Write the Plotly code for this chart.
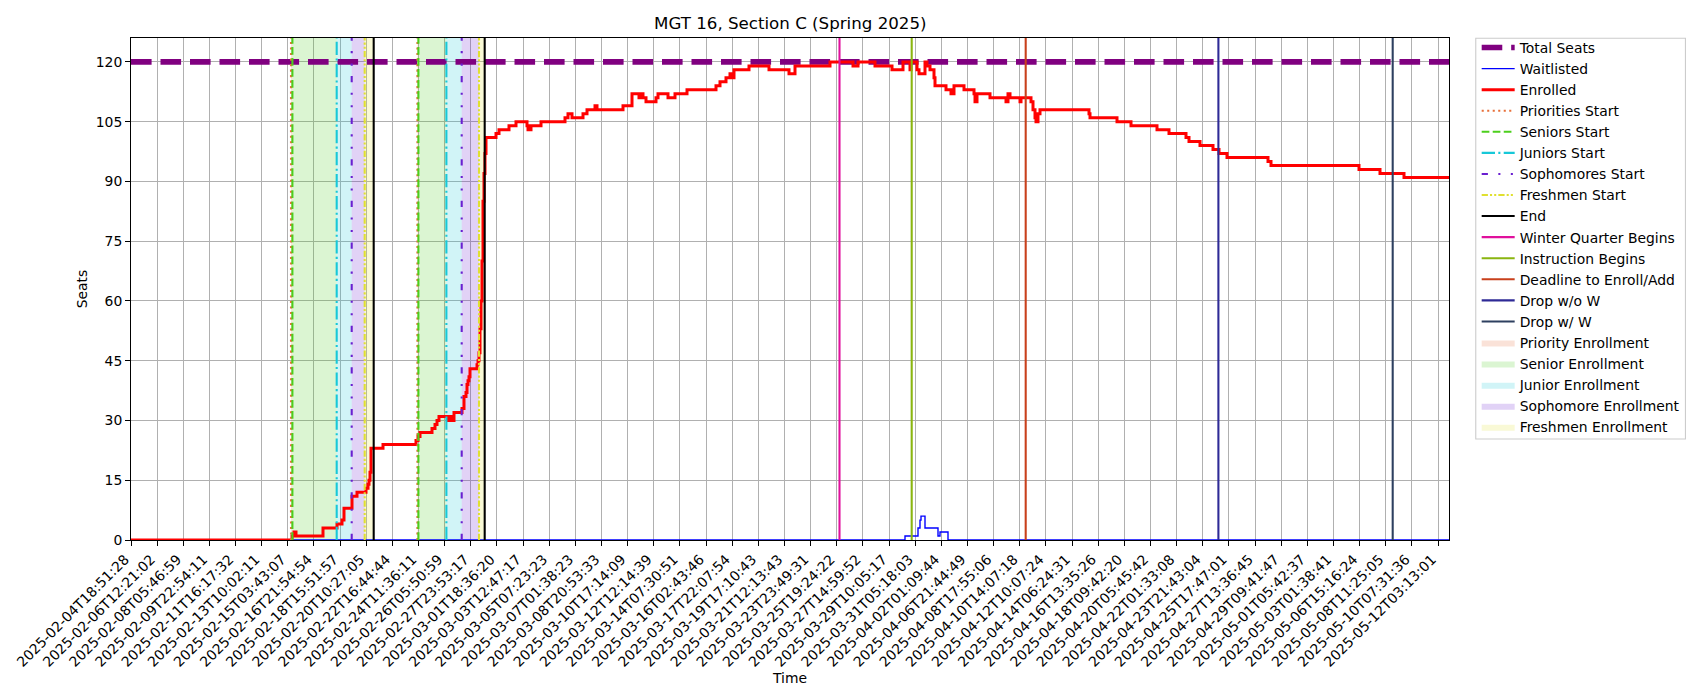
import plotly.graph_objects as go

TITLE = "MGT 16, Section C (Spring 2025)"
FONT = "DejaVu Sans"

tick_labels = [
    "2025-02-04T18:51:28", "2025-02-06T12:21:02", "2025-02-08T05:46:59", "2025-02-09T22:54:11",
    "2025-02-11T16:17:32", "2025-02-13T10:02:11", "2025-02-15T03:43:07", "2025-02-16T21:54:54",
    "2025-02-18T15:51:57", "2025-02-20T10:27:05", "2025-02-22T16:44:44", "2025-02-24T11:36:11",
    "2025-02-26T05:50:59", "2025-02-27T23:53:17", "2025-03-01T18:36:20", "2025-03-03T12:47:17",
    "2025-03-05T07:23:23", "2025-03-07T01:38:23", "2025-03-08T20:53:33", "2025-03-10T17:14:09",
    "2025-03-12T12:14:39", "2025-03-14T07:30:51", "2025-03-16T02:43:46", "2025-03-17T22:07:54",
    "2025-03-19T17:10:43", "2025-03-21T12:13:43", "2025-03-23T23:49:31", "2025-03-25T19:24:22",
    "2025-03-27T14:59:52", "2025-03-29T10:05:17", "2025-03-31T05:18:03", "2025-04-02T01:09:44",
    "2025-04-06T21:44:49", "2025-04-08T17:55:06", "2025-04-10T14:07:18", "2025-04-12T10:07:24",
    "2025-04-14T06:24:31", "2025-04-16T13:35:26", "2025-04-18T09:42:20", "2025-04-20T05:45:42",
    "2025-04-22T01:33:08", "2025-04-23T21:43:04", "2025-04-25T17:47:01", "2025-04-27T13:36:45",
    "2025-04-29T09:41:47", "2025-05-01T05:42:37", "2025-05-03T01:38:41", "2025-05-06T15:16:24",
    "2025-05-08T11:25:05", "2025-05-10T07:31:36", "2025-05-12T03:13:01",
]
samples_per_tick = 26.14
last_sample = 1318
y_max = 126
y_ticks = [0, 15, 30, 45, 60, 75, 90, 105, 120]
total_seats = 120

# sample index at which each new enrolled count takes effect
enrolled_idx = [
    0, 161, 163, 165, 192, 206, 211, 213, 221, 226, 235, 237, 238, 239, 240, 252, 285, 287, 289,
    301, 304, 306, 308, 317, 319, 320, 321, 322, 323, 331, 333, 335, 336, 337, 338, 339, 346, 347,
    348, 349, 350, 351, 352, 353, 354, 355, 365, 368, 378, 385, 396, 397, 400, 410, 434, 437, 441,
    452, 456, 464, 466, 492, 501, 508, 510, 512, 515, 525, 527, 537, 544, 556, 585, 589, 595, 599,
    600, 603, 618, 638, 658, 664, 699, 722, 727, 744, 761, 772, 779, 780, 786, 788, 794, 796, 799,
    803, 804, 815, 820, 823, 833, 843, 844, 846, 859, 875, 877, 879, 889, 890, 900, 902, 904, 905,
    907, 909, 958, 959, 986, 1000, 1026, 1038, 1055, 1058, 1069, 1082, 1088, 1096, 1137, 1140,
    1228, 1249, 1273, 1318,
]
enrolled = [
    0, 1, 2, 1, 3, 4, 5, 8, 11, 12, 13, 14, 15, 17, 23, 24, 25, 26, 27,
    28, 29, 30, 31, 30, 31, 30, 31, 30, 32, 33, 36, 37, 39, 40, 41, 43, 44, 45,
    47, 53, 60, 70, 85, 92, 97, 101, 102, 103, 104, 105, 104, 103, 104, 105, 106, 107, 106,
    107, 108, 109, 108, 109, 112, 111, 112, 111, 110, 111, 112, 111, 112, 113, 114, 115, 116, 117,
    116, 118, 119, 118, 117, 119, 120, 119, 120, 119, 118, 120, 118, 120, 118, 117, 120, 119, 118,
    116, 114, 113, 112, 114, 113, 112, 110, 112, 111, 110, 112, 111, 110, 111, 110, 108, 106, 105,
    107, 108, 107, 106, 105, 104, 103, 102, 101, 100, 99, 98, 97, 96, 95, 94,
    93, 92, 91, 91,
]

waitlist_idx = [0, 774, 787, 789, 790, 794, 795, 807, 809, 817, 1318]
waitlist = [0, 1, 3, 5, 6, 3, 3, 1, 2, 0, 0]

# class-standing enrollment windows: one value per pass
priorities_start = [160.0, 286.4]
seniors_start = [161.4, 287.4]
juniors_start = [205.7, 315.4]
sophomores_start = [220.7, 330.7]
freshmen_start = [233.7, 348.0]
enrollment_end = [242.7, 353.7]

winter_begins = 708.5
instruction_begins = 780.7
deadline_add = 894.7
drop_no_w = 1087.4
drop_w = 1261.7

LW = 2.08
styles = {
    "Priorities Start": ("#e8703a", "2.08px,3.43px"),
    "Seniors Start": ("#4ccf1c", "7.7px,3.33px"),
    "Juniors Start": ("#17c8d8", "13.3px,3.33px,2.08px,3.33px"),
    "Sophomores Start": ("#6a1fd0", "6.25px,10.4px,2.08px,10.4px,2.08px,10.4px"),
    "Freshmen Start": ("#e0e030", "6.25px,2.08px,2.08px,2.08px,2.08px,2.08px"),
    "End": ("#000000", "solid"),
    "Winter Quarter Begins": ("#e0109c", "solid"),
    "Instruction Begins": ("#8ab510", "solid"),
    "Deadline to Enroll/Add": ("#c8401c", "solid"),
    "Drop w/o W": ("#2e2a96", "solid"),
    "Drop w/ W": ("#2e4060", "solid"),
}
line_positions = {
    "Priorities Start": priorities_start,
    "Seniors Start": seniors_start,
    "Juniors Start": juniors_start,
    "Sophomores Start": sophomores_start,
    "Freshmen Start": freshmen_start,
    "End": enrollment_end,
    "Winter Quarter Begins": [winter_begins],
    "Instruction Begins": [instruction_begins],
    "Deadline to Enroll/Add": [deadline_add],
    "Drop w/o W": [drop_no_w],
    "Drop w/ W": [drop_w],
}
spans = [
    ("Priority Enrollment", "rgba(232,112,58,0.2)", priorities_start, seniors_start),
    ("Senior Enrollment", "rgba(76,207,28,0.2)", seniors_start, juniors_start),
    ("Junior Enrollment", "rgba(23,200,216,0.2)", juniors_start, sophomores_start),
    ("Sophomore Enrollment", "rgba(106,31,208,0.2)", sophomores_start, freshmen_start),
    ("Freshmen Enrollment", "rgba(224,224,48,0.2)", freshmen_start, enrollment_end),
]

fig = go.Figure()

for offset, (name, color, starts, ends) in enumerate(spans):
    xs, ys = [], []
    for a, b in zip(starts, ends):
        xs += [a, b, b, a, a, None]
        ys += [0, 0, y_max, y_max, 0, None]
    fig.add_trace(go.Scatter(
        x=xs, y=ys, name=name, mode="lines", fill="toself", fillcolor=color,
        line=dict(width=0), hoverinfo="skip", legendgroup=name, legendrank=300 + offset * 10,
    ))

fig.add_trace(go.Scatter(
    x=[0, last_sample], y=[total_seats, total_seats], name="Total Seats", mode="lines",
    line=dict(color="#800080", width=5.56, dash="20.6px,8.9px"), legendgroup="Total Seats", legendrank=10,
))
fig.add_trace(go.Scatter(
    x=waitlist_idx, y=waitlist, name="Waitlisted", mode="lines",
    line=dict(color="#0000ff", width=1.39, shape="hv"), legendgroup="Waitlisted", legendrank=20,
))
fig.add_trace(go.Scatter(
    x=enrolled_idx, y=enrolled, name="Enrolled", mode="lines",
    line=dict(color="#ff0000", width=3.0, shape="hv"), legendgroup="Enrolled", legendrank=30,
))

for i, (name, (color, dash)) in enumerate(styles.items()):
    xs, ys = [], []
    for p in line_positions[name]:
        xs += [p, p, None]
        ys += [0, y_max, None]
    fig.add_trace(go.Scatter(
        x=xs, y=ys, name=name, mode="lines", line=dict(color=color, width=LW, dash=dash),
        legendgroup=name, legendrank=40 + i * 5,
    ))

fig.update_layout(
    width=1700, height=700,
    margin=dict(l=131.3, r=250.7, t=37.7, b=160, autoexpand=False),
    paper_bgcolor="white", plot_bgcolor="white",
    font=dict(family=FONT, size=13.9, color="black"),
    title=dict(text=TITLE, font=dict(size=16.67, family=FONT), x=(131.3 + 1449.3) / 2 / 1700,
               xanchor="center", y=1 - 23 / 700, yanchor="middle"),
    showlegend=True,
    legend=dict(xref="paper", yref="paper", x=1.0210, y=1.012,
                xanchor="left", yanchor="top", borderwidth=0,
                bgcolor="rgba(255,255,255,0)", font=dict(size=13.9, family=FONT), tracegroupgap=0,
                itemwidth=33, itemclick=False, itemdoubleclick=False, maxheight=480),
    shapes=[dict(type="rect", xref="paper", yref="paper", x0=1.0203, x1=1.1794, y0=0.2011, y1=0.9994,
                 line=dict(color="#cccccc", width=1.1), fillcolor="white", layer="below")],
    xaxis=dict(
        range=[0, last_sample], tickmode="array",
        tickvals=[i * samples_per_tick for i in range(len(tick_labels))], ticktext=tick_labels,
        tickangle=-45, ticks="outside", ticklen=4.86, tickwidth=1.1, tickcolor="black",
        showgrid=True, gridcolor="#b0b0b0", gridwidth=1.1, zeroline=False,
        showline=True, linecolor="black", linewidth=1.1, mirror=True,
        title=dict(text="Time", standoff=3.5, font=dict(size=13.9)),
        automargin=False, tickfont=dict(size=13.9), ticklabelshift=-6,
    ),
    yaxis=dict(
        range=[0, y_max], tickmode="array", tickvals=y_ticks,
        ticks="outside", ticklen=4.86, tickwidth=1.1, tickcolor="black",
        showgrid=True, gridcolor="#b0b0b0", gridwidth=1.1, zeroline=False,
        showline=True, linecolor="black", linewidth=1.1, mirror=True,
        title=dict(text="Seats", standoff=4, font=dict(size=13.9)),
        automargin=False, tickfont=dict(size=13.9),
    ),
)

fig.write_html(
    "out.html",
    config=dict(displayModeBar=False),
    post_script="document.body.style.margin='0';document.body.style.overflow='hidden';",
)
